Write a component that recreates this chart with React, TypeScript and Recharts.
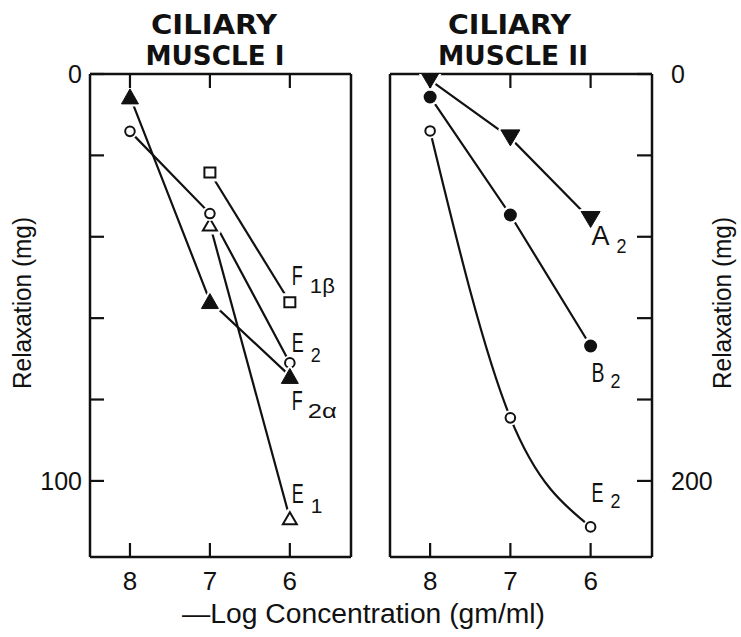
import React from 'react';
import { LineChart, Line, XAxis, YAxis } from 'recharts';

// -Log concentration (gm/ml)
const concentrations = [8, 7, 6];

// Ciliary muscle I, relaxation (mg)
const m1F2a = [5.5, 55.8, 74.2];
const m1E2 = [14.1, 34.3, 71.0];
const m1F1b = [null, 24.2, 56.1];
const m1E1 = [null, 37.0, 109.2];

// Ciliary muscle II, relaxation (mg)
const m2A2 = [3.0, 31.4, 71.5];
const m2B2 = [11.3, 69.3, 133.7];
const m2E2 = [28.0, 169.0, 222.6];

const xTicks = [8, 7, 6];
const yTicks1 = [0, 20, 40, 60, 80, 100];
const yLabels1 = [0, 100];
const yTicks2 = [0, 40, 80, 120, 160, 200];
const yLabels2 = [0, 200];

const X_DOMAIN: [number, number] = [5.235, 8.5];
const Y1_DOMAIN: [number, number] = [0, 118.7];
const Y2_DOMAIN: [number, number] = [0, 237.4];

const toSeries = (vals: (number | null)[]) =>
  concentrations
    .map((c, i) => ({ x: c, y: vals[i] }))
    .filter((d) => d.y !== null && d.y !== undefined);

const FONT = "'Liberation Sans', Arial, sans-serif";
const INK = '#111';
const axisLine = { stroke: INK, strokeWidth: 2.5 };

const BottomTick = (p: any) => (
  <g>
    <line x1={p.x} y1={p.y} x2={p.x} y2={p.y - 14} stroke={INK} strokeWidth={2.2} />
    <text x={p.x} y={p.y + 33} textAnchor="middle" fontFamily={FONT} fontSize={26} fill={INK}>
      {p.payload.value}
    </text>
  </g>
);

const TopTick = (p: any) => (
  <line x1={p.x} y1={p.y} x2={p.x} y2={p.y + 14} stroke={INK} strokeWidth={2.2} />
);

const makeLeftTick = (labels: number[]) => (p: any) => (
  <g>
    <line x1={p.x} y1={p.y} x2={p.x + 14} y2={p.y} stroke={INK} strokeWidth={2.2} />
    {labels.includes(p.payload.value) ? (
      <text x={p.x - 8} y={p.y + 9} textAnchor="end" fontFamily={FONT} fontSize={25} fill={INK}>
        {p.payload.value}
      </text>
    ) : null}
  </g>
);

const makeRightTick = (labels: number[]) => (p: any) => (
  <g>
    <line x1={p.x} y1={p.y} x2={p.x - 15} y2={p.y} stroke={INK} strokeWidth={2.2} />
    {labels.includes(p.payload.value) ? (
      <text x={p.x + 19} y={p.y + 9} textAnchor="start" fontFamily={FONT} fontSize={25} fill={INK}>
        {p.payload.value}
      </text>
    ) : null}
  </g>
);

type LabelSpec = {
  main: string;
  mainLen: number;
  sub: string;
  subLen?: number;
  dx: number;
  dy: number;
  sdx: number;
  sdy: number;
};

const shapePath = (shape: string, cx: number, cy: number) => {
  switch (shape) {
    case 'triUp':
      return `M${cx},${cy - 7.5} L${cx - 8.5},${cy + 7.5} L${cx + 8.5},${cy + 7.5} Z`;
    case 'triUpOpen':
      return `M${cx},${cy - 6} L${cx - 7},${cy + 6} L${cx + 7},${cy + 6} Z`;
    case 'triDown':
      return `M${cx - 9.5},${cy - 8} L${cx + 9.5},${cy - 8} L${cx},${cy + 8} Z`;
    case 'square':
      return `M${cx - 5.5},${cy - 5} L${cx + 5.5},${cy - 5} L${cx + 5.5},${cy + 5} L${cx - 5.5},${cy + 5} Z`;
    default:
      return '';
  }
};

const makeDot = (shape: string, label: LabelSpec) => (p: any) => {
  const { cx, cy, index, payload } = p;
  if (cx == null || cy == null) return <g key={`d${index}`} />;
  let mark: React.ReactNode;
  if (shape === 'circleOpen') {
    mark = (
      <g>
        <circle cx={cx} cy={cy} r={7.5} fill="#fff" />
        <circle cx={cx} cy={cy} r={4.8} fill="#fff" stroke={INK} strokeWidth={2} />
      </g>
    );
  } else if (shape === 'circleFilled') {
    mark = (
      <g>
        <circle cx={cx} cy={cy} r={9} fill="#fff" />
        <circle cx={cx} cy={cy} r={6.5} fill={INK} />
      </g>
    );
  } else {
    const d = shapePath(shape, cx, cy);
    const open = shape === 'triUpOpen' || shape === 'square';
    mark = (
      <g>
        <path d={d} fill="#fff" stroke="#fff" strokeWidth={open ? 8 : 5} strokeLinejoin="round" />
        <path
          d={d}
          fill={open ? '#fff' : INK}
          stroke={INK}
          strokeWidth={open ? 2 : 1}
          strokeLinejoin="miter"
        />
      </g>
    );
  }
  const isLast = payload && payload.x === 6;
  return (
    <g key={`d${index}`}>
      {mark}
      {isLast ? (
        <text fontFamily={FONT} fill={INK}>
          <tspan
            x={cx + label.dx}
            y={cy + label.dy}
            fontSize={27}
            textLength={label.mainLen}
            lengthAdjust="spacingAndGlyphs"
          >
            {label.main}
          </tspan>
          <tspan
            x={cx + label.sdx}
            y={cy + label.sdy}
            fontSize={21}
            {...(label.subLen ? { textLength: label.subLen, lengthAdjust: 'spacingAndGlyphs' } : {})}
          >
            {label.sub}
          </tspan>
        </text>
      ) : null}
    </g>
  );
};

const lineCommon = {
  xAxisId: 'b',
  yAxisId: 'l',
  dataKey: 'y',
  stroke: INK,
  strokeWidth: 2.2,
  isAnimationActive: false,
  activeDot: false as const,
};

const Panel = ({
  width,
  margin,
  yDomain,
  yTicks,
  leftTicks,
  rightTicks,
  children,
}: any) => (
  <LineChart width={width} height={637} margin={margin}>
    <XAxis
      xAxisId="b"
      type="number"
      dataKey="x"
      orientation="bottom"
      domain={X_DOMAIN}
      allowDataOverflow
      reversed
      ticks={xTicks}
      interval={0}
      height={1}
      tickSize={0}
      tickMargin={0}
      axisLine={axisLine}
      tickLine={false}
      tick={(p: any) => <BottomTick {...p} />}
    />
    <XAxis
      xAxisId="t"
      type="number"
      dataKey="x"
      orientation="top"
      domain={X_DOMAIN}
      allowDataOverflow
      reversed
      ticks={xTicks}
      interval={0}
      height={1}
      tickSize={0}
      tickMargin={0}
      axisLine={axisLine}
      tickLine={false}
      tick={(p: any) => <TopTick {...p} />}
    />
    <YAxis
      yAxisId="l"
      type="number"
      orientation="left"
      domain={yDomain}
      allowDataOverflow
      reversed
      ticks={yTicks}
      interval={0}
      width={1}
      tickSize={0}
      tickMargin={0}
      axisLine={axisLine}
      tickLine={false}
      tick={leftTicks ? (p: any) => leftTicks(p) : false}
    />
    <YAxis
      yAxisId="r"
      type="number"
      orientation="right"
      domain={yDomain}
      allowDataOverflow
      reversed
      ticks={yTicks}
      interval={0}
      width={1}
      tickSize={0}
      tickMargin={0}
      axisLine={axisLine}
      tickLine={false}
      tick={rightTicks ? (p: any) => rightTicks(p) : false}
    />
    {children}
  </LineChart>
);

export default function App() {
  return (
    <div style={{ position: 'absolute', left: 0, top: 0, width: 741, height: 637, background: '#fff' }}>
      <div style={{ position: 'absolute', left: 0, top: 0 }}>
        <Panel
          width={380}
          margin={{ top: 73, left: 89, right: 28, bottom: 79 }}
          yDomain={Y1_DOMAIN}
          yTicks={yTicks1}
          leftTicks={makeLeftTick(yLabels1)}
          rightTicks={null}
        >
          <Line
            {...lineCommon}
            data={toSeries(m1F1b)}
            type="linear"
            dot={makeDot('square', { main: 'F', mainLen: 11, sub: '1β', subLen: 25, dx: 2, dy: -17, sdx: 20, sdy: -9 })}
          />
          <Line
            {...lineCommon}
            data={toSeries(m1E1)}
            type="linear"
            dot={makeDot('triUpOpen', { main: 'E', mainLen: 12, sub: '1', dx: 2, dy: -15, sdx: 21, sdy: -5 })}
          />
          <Line
            {...lineCommon}
            data={toSeries(m1E2)}
            type="linear"
            dot={makeDot('circleOpen', { main: 'E', mainLen: 12, sub: '2', subLen: 10, dx: 2, dy: -11, sdx: 21, sdy: -1 })}
          />
          <Line
            {...lineCommon}
            data={toSeries(m1F2a)}
            type="linear"
            dot={makeDot('triUp', { main: 'F', mainLen: 11, sub: '2α', subLen: 29, dx: 2, dy: 34, sdx: 18, sdy: 42 })}
          />
        </Panel>
      </div>
      <div style={{ position: 'absolute', left: 380, top: 0 }}>
        <Panel
          width={361}
          margin={{ top: 73, left: 9, right: 88, bottom: 79 }}
          yDomain={Y2_DOMAIN}
          yTicks={yTicks2}
          leftTicks={null}
          rightTicks={makeRightTick(yLabels2)}
        >
          <Line
            {...lineCommon}
            data={toSeries(m2E2)}
            type="monotone"
            dot={makeDot('circleOpen', { main: 'E', mainLen: 12, sub: '2', subLen: 10, dx: 1, dy: -25, sdx: 20, sdy: -19 })}
          />
          <Line
            {...lineCommon}
            data={toSeries(m2B2)}
            type="linear"
            dot={makeDot('circleFilled', { main: 'B', mainLen: 13, sub: '2', subLen: 10, dx: 1, dy: 36, sdx: 20, sdy: 42 })}
          />
          <Line
            {...lineCommon}
            data={toSeries(m2A2)}
            type="linear"
            dot={makeDot('triDown', { main: 'A', mainLen: 18, sub: '2', subLen: 10, dx: 1, dy: 25.5, sdx: 26, sdy: 33.5 })}
          />
        </Panel>
      </div>
      <svg
        width={741}
        height={637}
        style={{ position: 'absolute', left: 0, top: 0, pointerEvents: 'none' }}
      >
        <g fontFamily="'DejaVu Sans', sans-serif" fontWeight="bold" fontSize={26} fill={INK} textAnchor="middle">
          <text x={214} y={34} textLength={126} lengthAdjust="spacingAndGlyphs">CILIARY</text>
          <text x={215} y={65} textLength={139} lengthAdjust="spacingAndGlyphs">MUSCLE I</text>
          <text x={509.5} y={34} textLength={123} lengthAdjust="spacingAndGlyphs">CILIARY</text>
          <text x={513} y={65} textLength={150} lengthAdjust="spacingAndGlyphs">MUSCLE II</text>
        </g>
        <g fontFamily={FONT} fill={INK}>
          <text x={182} y={623} fontSize={27} textLength={363} lengthAdjust="spacingAndGlyphs">
            —Log Concentration (gm/ml)
          </text>
          <text
            transform="translate(31,303) rotate(-90)"
            textAnchor="middle"
            fontSize={25}
            textLength={172}
            lengthAdjust="spacingAndGlyphs"
          >
            Relaxation (mg)
          </text>
          <text
            transform="translate(731,303) rotate(-90)"
            textAnchor="middle"
            fontSize={25}
            textLength={172}
            lengthAdjust="spacingAndGlyphs"
          >
            Relaxation (mg)
          </text>
        </g>
      </svg>
    </div>
  );
}
